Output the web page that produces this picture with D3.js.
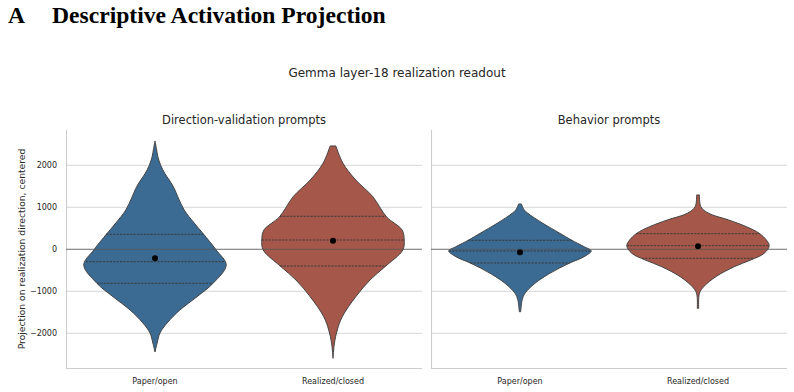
<!DOCTYPE html>
<html><head><meta charset="utf-8">
<script src="https://cdn.jsdelivr.net/npm/d3@7"></script>
<style>body{margin:0;background:#fff}svg{display:block}</style>
</head><body>
<svg id="c" width="794" height="392"></svg>
<script>
// ---- data ----
const panelTitles = ["Direction-validation prompts", "Behavior prompts"];
const categories = ["Paper/open", "Realized/closed"];
const yTicks = [-2000, -1000, 0, 1000, 2000];
const colors = ["#3b6a92", "#a5574a"];

// Violin profiles: projection values and relative density
const dvPaperVals = [2579, 2400, 2205, 2000, 1800, 1650, 1450, 1252, 936, 626, 364, -17, -374, -802, -1129, -1445, -1755, -1993, -2231, -2445];
const dvPaperDens = [0, 0.02, 0.04, 0.08, 0.14, 0.2, 0.27, 0.32, 0.41, 0.55, 0.68, 0.86, 1, 0.82, 0.59, 0.35, 0.17, 0.07, 0.03, 0];
const dvRealVals = [2460, 2048, 1650, 1252, 776, 460, 221, -17, -414, -731, -1129, -1605, -1921, -2231, -2595];
const dvRealDens = [0.04, 0.14, 0.32, 0.56, 0.75, 0.97, 1, 0.98, 0.73, 0.52, 0.32, 0.13, 0.06, 0.02, 0];
const bhPaperVals = [1079, 936, 857, 619, 381, 221, 62, -40, -176, -333, -571, -810, -1048, -1207, -1486];
const bhPaperDens = [0.02, 0.06, 0.11, 0.32, 0.56, 0.72, 0.9, 1, 0.9, 0.69, 0.42, 0.21, 0.07, 0.03, 0.01];
const bhRealVals = [1293, 1014, 857, 698, 538, 381, 221, 86, -95, -255, -414, -652, -890, -1048, -1405];
const bhRealDens = [0.02, 0.04, 0.15, 0.43, 0.68, 0.86, 0.96, 1, 0.93, 0.74, 0.51, 0.25, 0.08, 0.02, 0.01];

// quartiles [q1, median, q3] and means
const dvPaperQuart = [-810, -295, 357], dvPaperMean = -214;
const dvRealQuart = [-398, 221, 786], dvRealMean = 205;
const bhPaperQuart = [-326, -40, 214], bhPaperMean = -71;
const bhRealQuart = [-214, 86, 371], bhRealMean = 71;

const violins = [
  [{vals: dvPaperVals, dens: dvPaperDens, quart: dvPaperQuart, mean: dvPaperMean},
   {vals: dvRealVals, dens: dvRealDens, quart: dvRealQuart, mean: dvRealMean}],
  [{vals: bhPaperVals, dens: bhPaperDens, quart: bhPaperQuart, mean: bhPaperMean},
   {vals: bhRealVals, dens: bhRealDens, quart: bhRealQuart, mean: bhRealMean}]
];

// ---- layout ----
const svg = d3.select("#c");
const yTop = 130, yBottom = 368;
const panelX = [[66, 422], [431, 787]];
const y = d3.scaleLinear().domain([-2826, 2840]).range([yBottom, yTop]);
const font = "DejaVu Sans, sans-serif";
const serif = "Liberation Serif, Times New Roman, serif";

svg.append("text").attr("x", 8).attr("y", 23)
  .attr("font-family", serif).attr("font-weight", "bold")
  .attr("font-size", 23.6).attr("fill", "#000").text("A");
svg.append("text").attr("x", 52).attr("y", 23)
  .attr("font-family", serif).attr("font-weight", "bold")
  .attr("font-size", 23.6).attr("fill", "#000").text("Descriptive Activation Projection");

svg.append("text").attr("x", 397).attr("y", 77).attr("text-anchor", "middle")
  .attr("font-family", font).attr("font-size", 12).attr("fill", "#262626")
  .text("Gemma layer-18 realization readout");

svg.append("text").attr("transform", `translate(24.5,${(yTop + yBottom) / 2}) rotate(-90)`)
  .attr("text-anchor", "middle").attr("font-family", font).attr("font-size", 9.2).attr("fill", "#262626")
  .text("Projection on realization direction, centered");

panelX.forEach((px, pi) => {
  const g = svg.append("g");
  const x = d3.scaleBand().domain(categories).range(px);
  const w = d3.scaleLinear().domain([0, 1]).range([0, x.bandwidth() * 0.4]);

  // grid
  g.selectAll("line.grid").data(yTicks).join("line")
    .attr("x1", px[0]).attr("x2", px[1])
    .attr("y1", d => y(d)).attr("y2", d => y(d))
    .attr("stroke", "#d6d6d6").attr("stroke-width", 1);

  // spines
  g.append("line").attr("x1", px[0] + 0.5).attr("x2", px[0] + 0.5).attr("y1", yTop).attr("y2", yBottom)
    .attr("stroke", "#cccccc").attr("stroke-width", 1.1);
  g.append("line").attr("x1", px[0]).attr("x2", px[1]).attr("y1", yBottom + 0.5).attr("y2", yBottom + 0.5)
    .attr("stroke", "#cccccc").attr("stroke-width", 1.1);

  // title
  g.append("text").attr("x", (px[0] + px[1]) / 2).attr("y", 124).attr("text-anchor", "middle")
    .attr("font-family", font).attr("font-size", 11.5).attr("fill", "#262626").text(panelTitles[pi]);

  // y tick labels (left panel only)
  if (pi === 0) {
    g.selectAll("text.yt").data(yTicks).join("text")
      .attr("x", 57).attr("y", d => y(d)).attr("dy", "0.35em").attr("text-anchor", "end")
      .attr("font-family", font).attr("font-size", 8).attr("fill", "#262626")
      .text(d => String(d).replace("-", "\u2212"));
  }

  // x tick labels
  g.selectAll("text.xt").data(categories).join("text")
    .attr("x", d => x(d) + x.bandwidth() / 2).attr("y", 384).attr("text-anchor", "middle")
    .attr("font-family", font).attr("font-size", 8).attr("fill", "#262626").text(d => d);

  // violins
  violins[pi].forEach((v, ci) => {
    const cx = x(categories[ci]) + x.bandwidth() / 2;
    const pts = v.vals.map((val, i) => ({val, d: v.dens[i]}));
    const area = d3.area().curve(d3.curveCatmullRom.alpha(0.5))
      .y(d => y(d.val)).x0(d => cx - w(d.d)).x1(d => cx + w(d.d));
    g.append("path").datum(pts).attr("d", area)
      .attr("fill", colors[ci]).attr("stroke", "#444").attr("stroke-width", 1);

    const sorted = pts.slice().sort((a, b) => a.val - b.val);
    const dens = d3.scaleLinear().domain(sorted.map(p => p.val)).range(sorted.map(p => p.d));
    v.quart.forEach(q => {
      g.append("line").attr("x1", cx - w(dens(q))).attr("x2", cx + w(dens(q)))
        .attr("y1", y(q)).attr("y2", y(q))
        .attr("stroke", "#3a3a3a").attr("stroke-width", 1).attr("stroke-dasharray", "2.2,1.2");
    });
  });

  // zero line
  g.append("line").attr("x1", px[0]).attr("x2", px[1]).attr("y1", y(0)).attr("y2", y(0))
    .attr("stroke", "#555").attr("stroke-opacity", 0.75).attr("stroke-width", 1);

  // means
  violins[pi].forEach((v, ci) => {
    const cx = x(categories[ci]) + x.bandwidth() / 2;
    g.append("circle").attr("cx", cx).attr("cy", y(v.mean)).attr("r", 3).attr("fill", "#000");
  });
});
</script>
</body></html>
